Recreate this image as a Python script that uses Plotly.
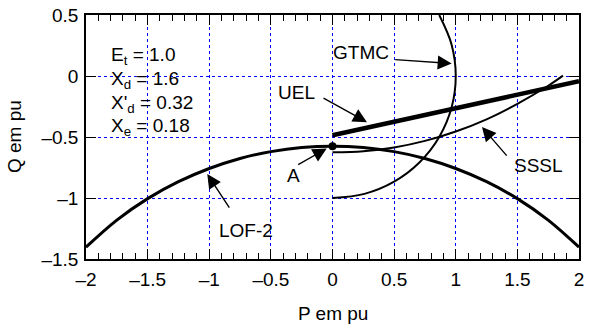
import plotly.graph_objects as go

# ---- data ----
lof_p = [-2.0, -1.75, -1.5, -1.25, -1.0, -0.75, -0.5, -0.25, 0.0, 0.25, 0.5, 0.75, 1.0, 1.25, 1.5, 1.75, 2.0]
lof_q = [-1.403, -1.181, -1.005, -0.866, -0.758, -0.676, -0.620, -0.586, -0.575, -0.586, -0.620, -0.676, -0.758, -0.866, -1.005, -1.181, -1.403]

gtmc_p = [0.0, 0.259, 0.5, 0.707, 0.866, 0.966, 1.0, 0.966, 0.866]
gtmc_q = [-1.0, -0.966, -0.866, -0.707, -0.5, -0.259, 0.0, 0.259, 0.5]

sssl_p = [0.0, 0.25, 0.5, 0.75, 1.0, 1.25, 1.5, 1.75, 1.87]
sssl_q = [-0.626, -0.616, -0.586, -0.532, -0.455, -0.355, -0.228, -0.080, 0.003]

uel_p = [0.0, 2.0]
uel_q = [-0.486, -0.043]

point_a = (0.0, -0.575)

x_ticks = [-2, -1.5, -1, -0.5, 0, 0.5, 1, 1.5, 2]
y_ticks = [-1.5, -1, -0.5, 0, 0.5]

params = ["E<sub>t</sub> = 1.0", "X<sub>d</sub> = 1.6", "X'<sub>d</sub> = 0.32", "X<sub>e</sub> = 0.18"]
params_y = [0.164, -0.033, -0.229, -0.418]

# curve labels: (text, x, y)
labels = [("GTMC", 0.231, 0.194), ("UEL", -0.296, -0.133), ("SSSL", 1.675, -0.730),
          ("A", -0.320, -0.812), ("LOF-2", -0.702, -1.263)]
# arrows: head x, head y, tail offset (px)
arrows = [(0.967, 0.102, -58, -4), (0.280, -0.379, -45, -25), (1.213, -0.419, 26, 30),
          (-0.047, -0.594, -30, 17), (-1.016, -0.804, 23, 35)]

FONT = "Liberation Sans, Arial, sans-serif"
FS = 19


def fmt(v):
    s = ("%g" % abs(v))
    return ("\u2013" + s) if v < 0 else s


fig = go.Figure()
fig.add_trace(go.Scatter(x=lof_p, y=lof_q, mode="lines", line=dict(color="black", width=3, shape="spline")))
fig.add_trace(go.Scatter(x=gtmc_p, y=gtmc_q, mode="lines", line=dict(color="black", width=2, shape="spline")))
fig.add_trace(go.Scatter(x=sssl_p, y=sssl_q, mode="lines", line=dict(color="black", width=2, shape="spline")))
fig.add_trace(go.Scatter(x=uel_p, y=uel_q, mode="lines", line=dict(color="black", width=4.5)))
fig.add_trace(go.Scatter(x=[point_a[0]], y=[point_a[1]], mode="markers", marker=dict(color="black", size=8)))

ann = []
for t, yy in zip(params, params_y):
    ann.append(dict(x=-1.81, y=yy, text=t, showarrow=False, xanchor="left", yanchor="middle",
                    font=dict(size=FS, color="black", family=FONT)))
for t, xx, yy in labels:
    ann.append(dict(x=xx, y=yy, text=t, showarrow=False, xanchor="center", yanchor="middle",
                    font=dict(size=FS, color="black", family=FONT)))
for hx, hy, ax, ay in arrows:
    ann.append(dict(x=hx, y=hy, ax=ax, ay=ay, text="", showarrow=True, arrowhead=2,
                    arrowsize=2.0, arrowwidth=1.4, arrowcolor="black", standoff=0))
# axis titles placed in paper coordinates
ann.append(dict(xref="paper", yref="paper", x=0.5, y=-0.225, text="P em pu", showarrow=False,
                xanchor="center", yanchor="middle", font=dict(size=FS, color="black", family=FONT)))
ann.append(dict(xref="paper", yref="paper", x=-0.146, y=0.5, text="Q em pu", showarrow=False, textangle=-90,
                xanchor="center", yanchor="middle", font=dict(size=FS, color="black", family=FONT)))

grid = dict(showgrid=True, gridcolor="#0000ff", griddash="3px,3px", gridwidth=1)
fig.update_layout(
    width=589, height=329, showlegend=False,
    paper_bgcolor="white", plot_bgcolor="white",
    margin=dict(l=86, r=10, t=15, b=70, autoexpand=False),
    font=dict(family=FONT, size=FS, color="black"),
    annotations=ann,
    xaxis=dict(range=[-2, 2], tickvals=x_ticks, ticktext=[fmt(v) for v in x_ticks], automargin=False,
               ticks="inside", ticklen=10, tickwidth=1, tickcolor="black", ticklabeloverflow="allow",
               minor=dict(dtick=0.1, ticks="inside", ticklen=6, tickcolor="black", showgrid=False),
               showline=True, linecolor="black", linewidth=1.5, mirror="ticks", zeroline=False,
               ticklabelstandoff=2, **grid),
    yaxis=dict(range=[-1.5, 0.5], tickvals=y_ticks, ticktext=[fmt(v) for v in y_ticks], automargin=False,
               ticks="inside", ticklen=10, tickwidth=1, tickcolor="black", ticklabeloverflow="allow",
               showline=True, linecolor="black", linewidth=1.5, mirror="ticks", zeroline=False,
               ticklabelstandoff=2, **grid),
)
fig.write_html("out.html", config={"displayModeBar": False},
               post_script="document.body.style.margin='0';")
